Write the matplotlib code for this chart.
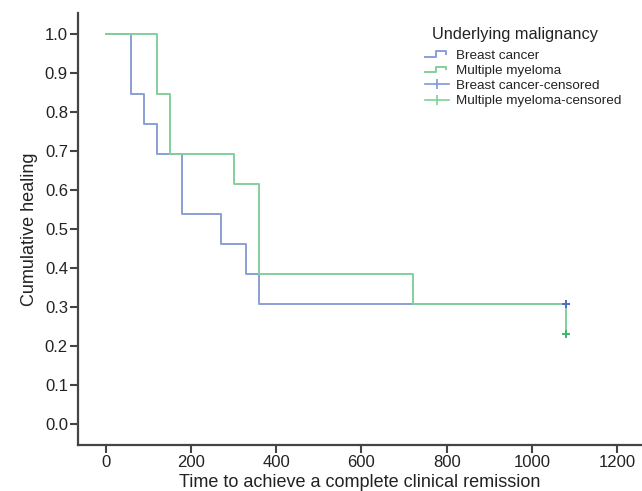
import matplotlib
matplotlib.use("Agg")
import matplotlib.pyplot as plt
from matplotlib.lines import Line2D
from matplotlib.legend_handler import HandlerBase

plt.rcParams['font.family'] = ['Liberation Sans', 'DejaVu Sans']

# Kaplan-Meier style step data (time in days, cumulative healing)
breast_t = [0, 60, 90, 120, 180, 270, 330, 360, 1080]
breast_s = [1.0, 0.846, 0.769, 0.692, 0.538, 0.462, 0.385, 0.308, 0.308]
myeloma_t = [0, 120, 150, 300, 360, 720, 1080]
myeloma_s = [1.0, 0.846, 0.692, 0.615, 0.385, 0.308, 0.231]

# censored points
breast_cens_t = [1080]
breast_cens_s = [0.308]
myeloma_cens_t = [1080]
myeloma_cens_s = [0.231]

blue = '#8a9fd6'
green = '#82cf9a'
blue_dark = '#4c6dc6'
green_dark = '#3fb56c'


class StepHandler(HandlerBase):
    def create_artists(self, legend, orig_handle, xdescent, ydescent,
                       width, height, fontsize, trans):
        x0, y0 = -xdescent, -ydescent
        xs = [x0, x0 + width * 0.45, x0 + width * 0.45, x0 + width * 0.85, x0 + width * 0.85]
        ys = [y0 + height * 0.2, y0 + height * 0.2, y0 + height * 0.8, y0 + height * 0.8, y0 + height * 0.55]
        ln = Line2D(xs, ys, color=orig_handle.get_color(), lw=orig_handle.get_linewidth(),
                    transform=trans)
        return [ln]


fig = plt.figure(figsize=(6.42, 4.91), dpi=100)
ax = fig.add_axes([0.122, 0.094, 0.878, 0.88])

l1, = ax.step(breast_t, breast_s, where='post', color=blue, lw=1.4)
l2, = ax.step(myeloma_t, myeloma_s, where='post', color=green, lw=1.4)
c1, = ax.plot(breast_cens_t, breast_cens_s, ls='none', marker='+', ms=6, mew=1.4, color=blue_dark)
c2, = ax.plot(myeloma_cens_t, myeloma_cens_s, ls='none', marker='+', ms=6, mew=1.4, color=green_dark)

ax.set_xlim(-64, 1258)
ax.set_ylim(-0.054, 1.054)
ax.set_xticks([0, 200, 400, 600, 800, 1000, 1200])
ax.set_yticks([i / 10 for i in range(11)])
ax.yaxis.set_major_formatter(matplotlib.ticker.FormatStrFormatter('%.1f'))

for s in ['top', 'right']:
    ax.spines[s].set_visible(False)
for s in ['left', 'bottom']:
    ax.spines[s].set_color('#444444')
    ax.spines[s].set_linewidth(1.6)
ax.tick_params(direction='out', length=6, width=1.5, color='#444444', labelsize=12,
               labelcolor='#222222', pad=1.5)

ax.set_xlabel('Time to achieve a complete clinical remission', fontsize=13, color='#222222', labelpad=3)
ax.set_ylabel('Cumulative healing', fontsize=13, color='#222222', labelpad=5)

# legend title placed separately, slightly indented like the original
fig.text(432 / 642, 1 - 35 / 491, 'Underlying malignancy', fontsize=11.8, color='#222222',
         ha='left', va='center')

lc1 = Line2D([], [], color='#7f97d8', marker='|', ms=7, mew=1.2, lw=1.2)
lc2 = Line2D([], [], color='#7fcf98', marker='|', ms=7, mew=1.2, lw=1.2)
leg = ax.legend([l1, l2, lc1, lc2],
                ['Breast cancer', 'Multiple myeloma', 'Breast cancer-censored', 'Multiple myeloma-censored'],
                handler_map={l1: StepHandler(), l2: StepHandler()},
                loc='upper left',
                bbox_to_anchor=(425 / 642, 1 - 49.5 / 491), bbox_transform=fig.transFigure,
                frameon=False, fontsize=9.7, handlelength=1.8,
                handletextpad=0.5, labelspacing=0.2, borderpad=0, borderaxespad=0)
for t in leg.get_texts():
    t.set_color('#222222')

fig.savefig('out.png', dpi=100)
